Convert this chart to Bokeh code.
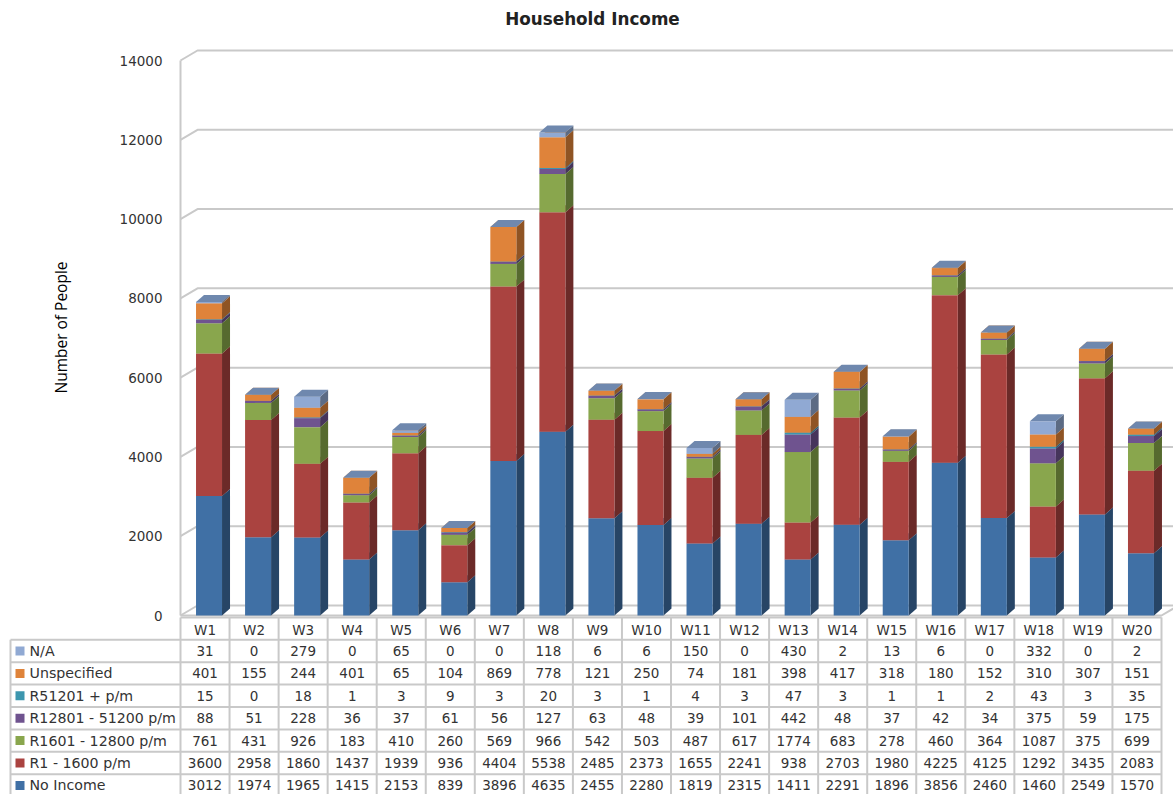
from math import pi
from bokeh.plotting import figure
from bokeh.models import Range1d, LinearAxis, FixedTicker
from bokeh.core.properties import value
from bokeh.embed import file_html
from bokeh.resources import INLINE

title = "Household Income"
y_label = "Number of People"
wards = ["W1","W2","W3","W4","W5","W6","W7","W8","W9","W10","W11","W12","W13","W14","W15","W16","W17","W18","W19","W20"]
y_ticks = [0,2000,4000,6000,8000,10000,12000,14000]

no_income = [3012,1974,1965,1415,2153,839,3896,4635,2455,2280,1819,2315,1411,2291,1896,3856,2460,1460,2549,1570]
r1_1600 = [3600,2958,1860,1437,1939,936,4404,5538,2485,2373,1655,2241,938,2703,1980,4225,4125,1292,3435,2083]
r1601_12800 = [761,431,926,183,410,260,569,966,542,503,487,617,1774,683,278,460,364,1087,375,699]
r12801_51200 = [88,51,228,36,37,61,56,127,63,48,39,101,442,48,37,42,34,375,59,175]
r51201 = [15,0,18,1,3,9,3,20,3,1,4,3,47,3,1,1,2,43,3,35]
unspecified = [401,155,244,401,65,104,869,778,121,250,74,181,398,417,318,180,152,310,307,151]
not_applicable = [31,0,279,0,65,0,0,118,6,6,150,0,430,2,13,6,0,332,0,2]

series_names = ["No Income","R1 - 1600 p/m","R1601 - 12800 p/m","R12801 - 51200 p/m","R51201 + p/m","Unspecified","N/A"]
series_values = [no_income,r1_1600,r1601_12800,r12801_51200,r51201,unspecified,not_applicable]
front_colors = ["#4070A5","#AA4340","#89A64D","#6F538F","#3D96AE","#DF833A","#90A9D3"]
side_colors = ["#274566","#6B2A28","#566A2F","#46355B","#276070","#8F5424","#5C6B84"]
top_colors = ["#5C83AE","#B96462","#9CB56A","#8570A0","#5FA9BD","#E29A5F","#6F88AE"]

# layout: image pixels of the reference
PX_PER_CAT = 49.05
PX_PER_UNIT = 555 / 14000
AXIS_PX, ZERO_PX = 180, 615
LEFT, RIGHT, TOP, BOTTOM = 0, 1173, 0, 794
ROW0_PX, ROW_H = 639.3, 22.4
GRID_COLOR = "#C9C9C9"
TEXT_COLOR = "#333333"

def cat_at(px):
    return 0.5 + (px - AXIS_PX) / PX_PER_CAT
def val_at(px):
    return (ZERO_PX - px) / PX_PER_UNIT
def row_at(px):
    return (px - ROW0_PX) / ROW_H

wall_dx, wall_dy = 17 / PX_PER_CAT, 10 / PX_PER_UNIT
bar_dx, bar_dy = 8 / PX_PER_CAT, 7 / PX_PER_UNIT
bar_w, bar_shift = 26 / PX_PER_CAT, 4 / PX_PER_CAT

p = figure(width=RIGHT - LEFT, height=BOTTOM - TOP, output_backend="svg", toolbar_location=None,
           x_range=Range1d(cat_at(LEFT), cat_at(RIGHT)), y_range=Range1d(val_at(BOTTOM), val_at(TOP)),
           x_axis_location=None, y_axis_location=None, min_border=0, outline_line_color=None)
p.xgrid.visible = False
p.ygrid.visible = False
p.extra_y_ranges["table"] = Range1d(row_at(BOTTOM), row_at(TOP))
p.extra_x_ranges["px"] = Range1d(LEFT, RIGHT)

n = len(wards)
x_left, x_right = 0.5, n + 0.5

# walls and floor
gx, gy = [], []
for t in y_ticks:
    gx.append([x_left, x_left + wall_dx, x_right + wall_dx])
    gy.append([t, t + wall_dy, t + wall_dy])
gx.append([x_left, x_right, x_right + wall_dx])
gy.append([0, 0, wall_dy])
p.multi_line(gx, gy, line_color=GRID_COLOR, line_width=2)

# 3D stacked bars
base = [0] * n
for vals, fc, sc, tc in zip(series_values, front_colors, side_colors, top_colors):
    tops = [b + v for b, v in zip(base, vals)]
    l = [i + 1 + bar_shift - bar_w / 2 for i in range(n)]
    r = [i + 1 + bar_shift + bar_w / 2 for i in range(n)]
    p.patches([[a, a + bar_dx, a + bar_dx, a] for a in r],
              [[b, b + bar_dy, t + bar_dy, t] for b, t in zip(base, tops)],
              fill_color=sc, line_color=None)
    p.quad(left=l, right=r, bottom=base, top=tops, fill_color=fc, line_color=None)
    p.patches([[a, b, b + bar_dx, a + bar_dx] for a, b in zip(l, r)],
              [[t, t, t + bar_dy, t + bar_dy] for t in tops],
              fill_color=tc, line_color=None)
    base = tops

# axis
ax = LinearAxis(fixed_location=x_left, bounds=(0, 14000), ticker=FixedTicker(ticks=y_ticks),
                axis_line_color=GRID_COLOR, axis_line_width=2,
                major_tick_out=0, major_tick_in=0, minor_tick_out=0, minor_tick_in=0,
                major_label_standoff=18, major_label_text_font="DejaVu Sans",
                major_label_text_font_size="13.5px", major_label_text_color=TEXT_COLOR)
p.add_layout(ax, "left")

# title and axis title
p.text(x=[cat_at(592)], y=[val_at(18)], text=[title], text_align="center", text_baseline="middle",
       text_font=value("DejaVu Sans"), text_font_size=value("16.8px"), text_font_style="bold", text_color="#222222")
p.text(x=[cat_at(60)], y=[val_at(327)], text=[y_label], angle=pi / 2, text_align="center", text_baseline="middle",
       text_font=value("Open Sans"), text_font_size=value("15.5px"), text_color="#000000")

# data table
n_rows = len(series_names)
lines_x = [[cat_at(10), x_right] for _ in range(n_rows + 1)] + [[x_left, x_right]]
lines_y = [[k, k] for k in range(n_rows + 1)] + [[-1, -1]]
p.multi_line(lines_x, lines_y, y_range_name="table", line_color=GRID_COLOR, line_width=2)
p.multi_line([[k + 0.5, k + 0.5] for k in range(n + 1)], [[-1, n_rows] for _ in range(n + 1)],
             y_range_name="table", line_color=GRID_COLOR, line_width=2)
p.multi_line([[cat_at(10), cat_at(10)]], [[0, n_rows]], y_range_name="table", line_color=GRID_COLOR, line_width=2)

cats = [i + 1 for i in range(n)]
text_kw = dict(text_baseline="middle", text_font=value("DejaVu Sans"), text_color=TEXT_COLOR)
p.text(x=cats, y=[-0.42] * n, text=wards, text_align="center", y_range_name="table",
       text_font_size=value("13.5px"), **text_kw)
for k, (name, vals, fc) in enumerate(zip(reversed(series_names), reversed(series_values), reversed(front_colors))):
    p.text(x=cats, y=[k + 0.5] * n, text=[str(v) for v in vals], text_align="center", y_range_name="table",
           text_font_size=value("13.5px"), **text_kw)
    p.scatter(x=[19.5], y=[k + 0.5], marker="square", size=9, fill_color=fc, line_color=None,
              x_range_name="px", y_range_name="table")
    p.text(x=[29], y=[k + 0.5], text=[name], text_align="left", x_range_name="px", y_range_name="table",
           text_font_size=value("14.2px"), **text_kw)

open("out.html", "w").write(file_html(p, INLINE))
